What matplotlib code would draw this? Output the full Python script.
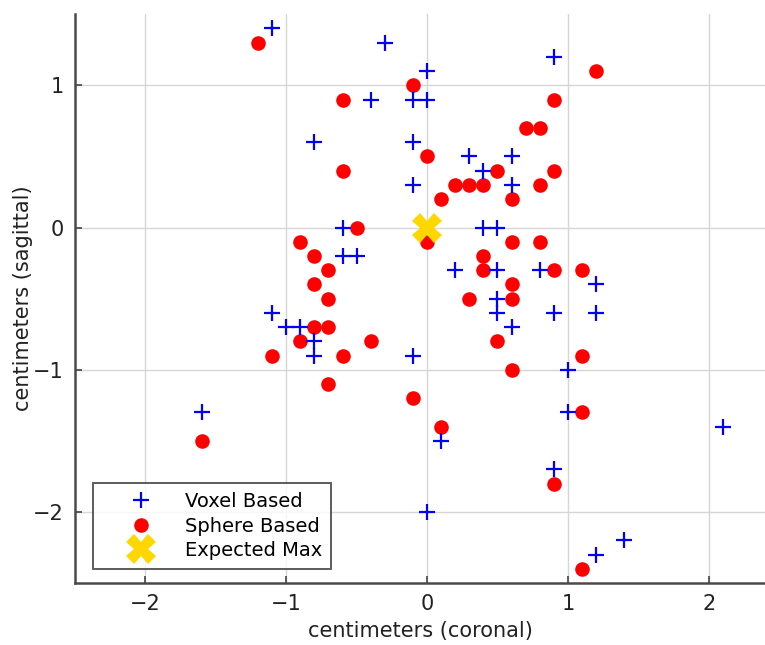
import matplotlib.pyplot as plt


OUTPUT_FILE = "out.png"

# Voxel based peak locations (coronal, sagittal) in centimeters
VOXEL_X = [
    -1.1, -0.3, 0.9, 0.0, -0.4, -0.1, 0.0, -0.8, -0.1, 0.3,
    0.6, 0.4, -0.1, 0.6, -0.6, 0.4, 0.5, -0.6, -0.5, 0.2,
    0.5, 0.8, 1.2, 0.5, -1.1, 0.5, 0.9, 1.2, -1.0, -0.9,
    0.6, -0.8, -0.8, -0.1, 1.0, -1.6, 1.0, 2.1, 0.1, 0.9,
    0.0, 1.4, 1.2,
]
VOXEL_Y = [
    1.4, 1.3, 1.2, 1.1, 0.9, 0.9, 0.9, 0.6, 0.6, 0.5,
    0.5, 0.4, 0.3, 0.3, 0.0, 0.0, 0.0, -0.2, -0.2, -0.3,
    -0.3, -0.3, -0.4, -0.5, -0.6, -0.6, -0.6, -0.6, -0.7, -0.7,
    -0.7, -0.8, -0.9, -0.9, -1.0, -1.3, -1.3, -1.4, -1.5, -1.7,
    -2.0, -2.2, -2.3,
]

# Sphere based peak locations
SPHERE_X = [
    -1.2, -0.1, 1.2, -0.6, 0.9, 0.7, 0.8, 0.0, -0.6, 0.5,
    0.9, 0.2, 0.3, 0.4, 0.8, 0.1, 0.6, -0.5, 0.0, 0.6,
    0.8, -0.9, -0.8, 0.4, -0.7, 0.4, 0.9, 1.1, -0.8, 0.6,
    -0.7, 0.3, 0.6, -0.8, -0.7, -0.9, -0.4, 0.5, -1.1, -0.6,
    1.1, -0.7, 0.6, -0.1, 0.1, 1.1, -1.6, 0.9, 1.1,
]
SPHERE_Y = [
    1.3, 1.0, 1.1, 0.9, 0.9, 0.7, 0.7, 0.5, 0.4, 0.4,
    0.4, 0.3, 0.3, 0.3, 0.3, 0.2, 0.2, 0.0, -0.1, -0.1,
    -0.1, -0.1, -0.2, -0.2, -0.3, -0.3, -0.3, -0.3, -0.4, -0.4,
    -0.5, -0.5, -0.5, -0.7, -0.7, -0.8, -0.8, -0.8, -0.9, -0.9,
    -0.9, -1.1, -1.0, -1.2, -1.4, -1.3, -1.5, -1.8, -2.4,
]

EXPECTED_X = [0.0]
EXPECTED_Y = [0.0]

X_TICKS = [-2, -1, 0, 1, 2]
Y_TICKS = [-2, -1, 0, 1]


def create_chart() -> None:
    plt.rcParams["font.family"] = ["DejaVu Sans"]

    fig = plt.figure(figsize=(7.65, 6.45), dpi=100)
    ax = fig.add_axes([0.098, 0.096, 0.902, 0.882])

    ax.plot(
        VOXEL_X, VOXEL_Y,
        linestyle="none",
        marker="+",
        markersize=12,
        markeredgewidth=1.6,
        color="#0000ff",
        label="Voxel Based",
        zorder=3,
    )
    ax.plot(
        SPHERE_X, SPHERE_Y,
        linestyle="none",
        marker="o",
        markersize=10.5,
        color="#ff0000",
        markeredgewidth=0,
        label="Sphere Based",
        zorder=2,
    )
    ax.plot(
        EXPECTED_X, EXPECTED_Y,
        linestyle="none",
        marker="X",
        markersize=21,
        color="#ffd700",
        markeredgewidth=0,
        label="Expected Max",
        zorder=4,
    )

    ax.set_xlim(-2.5, 2.4)
    ax.set_ylim(-2.5, 1.5)
    ax.set_xticks(X_TICKS)
    ax.set_yticks(Y_TICKS)
    ax.set_xticklabels([f"{t}".replace("-", "\u2212") for t in X_TICKS])
    ax.set_yticklabels([f"{t}".replace("-", "\u2212") for t in Y_TICKS])

    ax.grid(True, color="#d6d6d6", linewidth=1.0)
    ax.set_axisbelow(True)

    for side in ["top", "right"]:
        ax.spines[side].set_visible(False)
    for side in ["left", "bottom"]:
        ax.spines[side].set_color("#4a4a4a")
        ax.spines[side].set_linewidth(1.8)

    ax.tick_params(
        direction="in",
        length=5,
        width=1.2,
        color="#444444",
        labelsize=15,
        labelcolor="#222222",
        pad=8,
    )

    ax.set_xlabel("centimeters (coronal)", fontsize=15, color="#222222", labelpad=5)
    ax.set_ylabel("centimeters (sagittal)", fontsize=15, color="#222222", labelpad=0)

    legend = ax.legend(
        loc="lower left",
        bbox_to_anchor=(0.026, 0.025),
        fontsize=14,
        frameon=True,
        fancybox=False,
        edgecolor="#333333",
        borderpad=0.45,
        labelspacing=0.28,
        handlelength=4.0,
        handletextpad=0.3,
        borderaxespad=0,
    )
    legend.get_frame().set_linewidth(1.4)

    fig.savefig(OUTPUT_FILE, dpi=100)
    plt.close(fig)


def main() -> None:
    create_chart()


if __name__ == "__main__":
    main()
